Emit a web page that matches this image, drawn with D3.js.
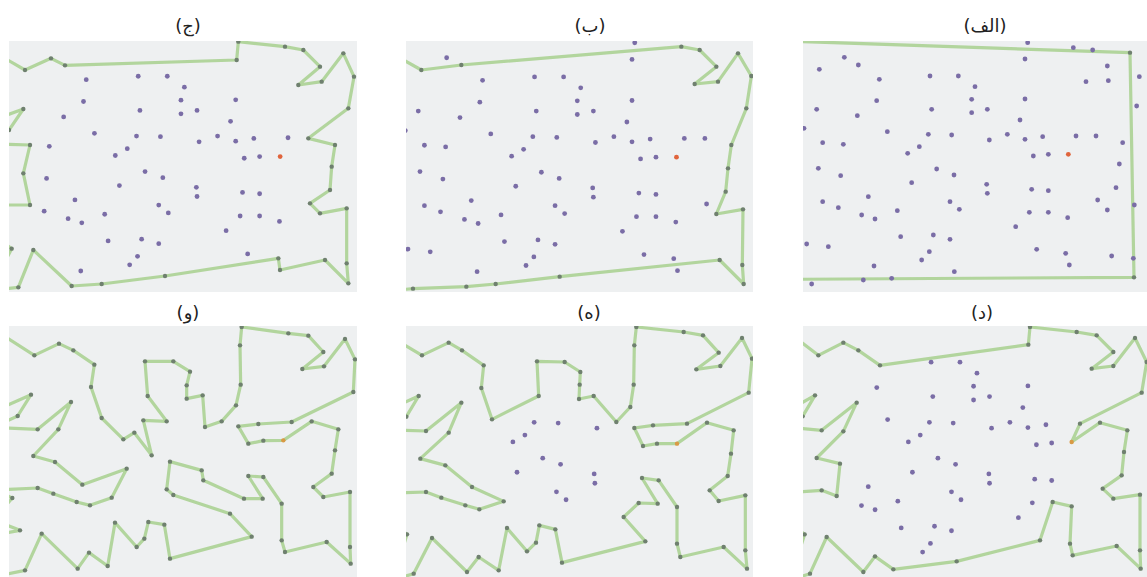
<!DOCTYPE html>
<html>
<head>
<meta charset="utf-8">
<script src="https://cdn.jsdelivr.net/npm/d3@7"></script>
<style>
body { margin: 0; background: #fff; }
</style>
</head>
<body>
<svg id="chart" width="1147" height="577"></svg>
<script>

// every city (الف)
var cities = [
    [683,128],[820,143],[878,150],[990,158],[675,177],[133,172],[175,195],[58,208],[922,198],
    [238,238],[390,228],[475,228],[858,245],[925,242],[1018,230],[525,260],[230,302],[515,298],
    [675,297],[1010,318],[50,328],[395,328],[515,338],[562,328],[172,347],[660,360],[12,385],
    [262,395],[385,403],[455,405],[622,403],[568,420],[675,418],[728,410],[828,408],[888,408],
    [968,428],[68,428],[130,433],[358,440],[323,460],[700,468],[745,463],[958,492],[55,505],
    [410,507],[462,525],[122,527],[335,548],[560,553],[562,580],[695,568],[745,572],[948,563],
    [205,590],[68,605],[115,623],[450,605],[478,628],[292,632],[893,600],[922,630],[1003,615],
    [185,645],[225,657],[688,637],[745,637],[803,653],[647,680],[20,732],[85,740],[302,710],
    [400,705],[450,718],[388,755],[365,780],[710,748],[797,760],[935,768],[1000,775],[222,798],
    [463,815],[808,795],[35,852],[190,840],[275,835],[1002,832]
];
var startCity = [805,463];

// tour of each step, read in that panel's own frame
var tourAlef = [[-40,123],[990,158],[1002,832],[-40,838]];

var tourBe = [[-40,157],[55,210],[175,195],[835,140],[890,150],[940,200],[875,252],[945,245],
    [1005,160],[1045,228],[1030,325],[985,435],[975,505],[968,575],[940,642],[1020,628],
    [1018,795],[1022,852],[950,780],[470,830],[278,852],[190,860],[30,866],[-40,872]];

var tourJim = [[-20,155],[75,210],[153,175],[195,196],[710,180],[715,125],[855,140],[910,150],
    [960,200],[895,255],[965,245],[1030,160],[1062,230],[1045,325],[925,415],[1005,435],
    [995,500],[990,570],[930,610],[960,640],[1040,625],[1040,790],[1045,850],[975,780],
    [840,810],[835,775],[495,828],[305,852],[215,858],[100,750],[55,862],[-30,872],[35,746],
    [-30,700],[-30,615],[90,615],[70,520],[90,435],[-20,432],[27,390],[70,327],[-20,360]];

var tourDal = [[-30,130],[55,196],[130,158],[175,181],[240,226],[685,164],[690,111],[830,126],
    [890,136],[940,186],[875,236],[940,228],[1005,144],[1040,216],[1025,308],[840,401],
    [815,456],[900,398],[982,421],[972,486],[965,556],[908,596],[940,626],[1020,614],
    [1020,781],[1022,836],[950,768],[818,796],[810,761],[815,649],[758,636],[720,751],
    [470,814],[280,838],[225,799],[190,846],[80,741],[30,851],[-30,870],[14,733],[-30,700],
    [-30,608],[65,601],[110,618],[120,521],[50,504],[130,424],[170,338],[65,421],[-30,412],
    [8,379],[45,316],[-30,359]];

var tourHe = [[-30,144],[57,196],[137,158],[177,181],[242,226],[235,294],[267,388],[407,318],
    [402,214],[485,216],[532,246],[530,284],[528,327],[572,318],[640,396],[682,351],[692,284],
    [694,166],[700,111],[842,126],[900,136],[947,188],[880,238],[952,228],[1017,144],
    [1047,206],[1037,308],[852,401],[750,406],[694,414],[720,468],[762,461],[822,461],
    [912,398],[992,421],[984,491],[974,558],[920,601],[947,633],[1027,616],[1027,781],
    [1032,836],[962,771],[832,801],[822,761],[822,651],[767,571],[717,564],[764,641],
    [707,639],[662,681],[727,754],[477,818],[457,718],[409,706],[399,758],[372,784],
    [312,714],[287,841],[227,801],[192,846],[87,744],[32,851],[-30,870],[12,733],[-30,700],
    [-30,609],[69,606],[115,623],[187,646],[229,658],[302,634],[207,591],[127,526],[52,506],
    [137,428],[175,338],[69,423],[-30,420],[10,380],[47,318],[-30,353]];

var tourVav = [[-20,117],[103,196],[177,161],[220,181],[283,224],[273,291],[305,384],[370,448],
    [403,428],[455,496],[430,391],[500,394],[443,318],[435,214],[520,214],[570,245],[560,286],
    [560,326],[608,316],[615,411],[665,394],[708,346],[722,284],[720,166],[725,111],[865,130],
    [925,137],[970,186],[907,237],[972,229],[1035,147],[1065,208],[1060,306],[875,396],
    [775,402],[715,409],[745,461],[790,452],[850,451],[935,394],[1015,418],[1005,481],
    [995,551],[940,591],[970,621],[1050,606],[1050,771],[1052,821],[980,756],[855,786],
    [845,751],[845,641],[790,561],[745,558],[788,626],[732,626],[610,571],[605,541],[510,515],
    [500,598],[520,615],[690,671],[755,740],[510,806],[493,704],[445,696],[433,746],[410,771],
    [345,698],[323,828],[267,788],[233,836],[125,731],[75,841],[-20,860],[-20,735],[60,721],
    [-20,690],[37,624],[-20,600],[113,594],[160,611],[230,636],[270,646],[335,623],[380,536],
    [247,584],[165,516],[100,498],[175,418],[213,336],[113,418],[-20,412],[53,378],[93,314],
    [-20,365]];

var labels = ["(الف)", "(ب)", "(ج)", "(د)", "(ه)", "(و)"];
var tours = [tourAlef, tourBe, tourJim, tourDal, tourHe, tourVav];

// where each step sits on the page, and how the city frame maps into it
var panels = [
    {box: [803, 41, 344, 251], origin: [800, 0],   fit: [1, 0, 1, 0],               label: [985, 32]},
    {box: [406, 41, 347, 251], origin: [403, 0],   fit: [1.026, -5.5, 1.025, -3],    label: [590, 32]},
    {box: [9, 41, 348, 251],   origin: [0, 0],     fit: [1.026, 14.5, 1.025, -5],    label: [188, 32]},
    {box: [803, 326, 344, 251], origin: [800, 290], fit: [1.019, -4.1, 1.032, -18.8], label: [982, 319]},
    {box: [406, 326, 347, 251], origin: [403, 290], fit: [1.029, -2.7, 1.032, -18.8], label: [589, 319]},
    {box: [9, 326, 348, 251],   origin: [0, 290],   fit: [1.005, 44.7, 1.003, -12.5], label: [188, 319]}
];

var svg = d3.select("#chart");
var defs = svg.append("defs");

panels.forEach(function (p, k) {
    var tour = tours[k];
    // panel frame -> page
    var x = d3.scaleLinear().domain([0, 1050]).range([p.origin[0], p.origin[0] + 350]);
    var y = d3.scaleLinear().domain([0, 1050]).range([p.origin[1], p.origin[1] + 350]);
    // city frame -> panel frame
    var cx = d3.scaleLinear().domain([0, 1000]).range([p.fit[1], p.fit[1] + 1000 * p.fit[0]]);
    var cy = d3.scaleLinear().domain([0, 1000]).range([p.fit[3], p.fit[3] + 1000 * p.fit[2]]);

    defs.append("clipPath").attr("id", "clip" + k)
        .append("rect")
        .attr("x", p.box[0]).attr("y", p.box[1])
        .attr("width", p.box[2]).attr("height", p.box[3]);

    var g = svg.append("g").attr("clip-path", "url(#clip" + k + ")");

    g.append("rect")
        .attr("x", p.box[0]).attr("y", p.box[1])
        .attr("width", p.box[2]).attr("height", p.box[3])
        .style("fill", "#eef0f1");

    var line = d3.line()
        .x(function (d) { return x(d[0]) })
        .y(function (d) { return y(d[1]) })
        .curve(d3.curveLinearClosed);

    g.append("path")
        .datum(tour)
        .attr("d", line)
        .style("fill", "none")
        .style("stroke", "#abd293")
        .style("stroke-width", 3.2)
        .style("stroke-linejoin", "round")
        .style("opacity", 0.9);

    function nearTour(px, py) {
        return tour.some(function (t) {
            return Math.hypot(t[0] - px, t[1] - py) < 20;
        });
    }

    var sx = cx(startCity[0]), sy = cy(startCity[1]);

    g.selectAll(".stop")
        .data(tour)
        .enter()
        .append("circle")
        .attr("class", "stop")
        .attr("cx", function (d) { return x(d[0]) })
        .attr("cy", function (d) { return y(d[1]) })
        .attr("r", 2.2)
        .style("fill", function (d) {
            return Math.hypot(d[0] - sx, d[1] - sy) < 20 ? "#d99a45" : "#6f806f";
        });

    // cities not yet in the tour
    var left = cities.filter(function (c) { return !nearTour(cx(c[0]), cy(c[1])) });

    g.selectAll(".city")
        .data(left)
        .enter()
        .append("circle")
        .attr("class", "city")
        .attr("cx", function (d) { return x(cx(d[0])) })
        .attr("cy", function (d) { return y(cy(d[1])) })
        .attr("r", 2.4)
        .style("fill", "#7a6da6");

    if (!nearTour(sx, sy)) {
        g.append("circle")
            .attr("cx", x(sx)).attr("cy", y(sy))
            .attr("r", 2.4)
            .style("fill", "#e0643c");
    }

    svg.append("text")
        .attr("x", p.label[0])
        .attr("y", p.label[1])
        .attr("text-anchor", "middle")
        .style("font-family", "DejaVu Sans")
        .style("font-size", "18px")
        .style("fill", "#222")
        .text(labels[k]);
});

</script>
</body>
</html>
